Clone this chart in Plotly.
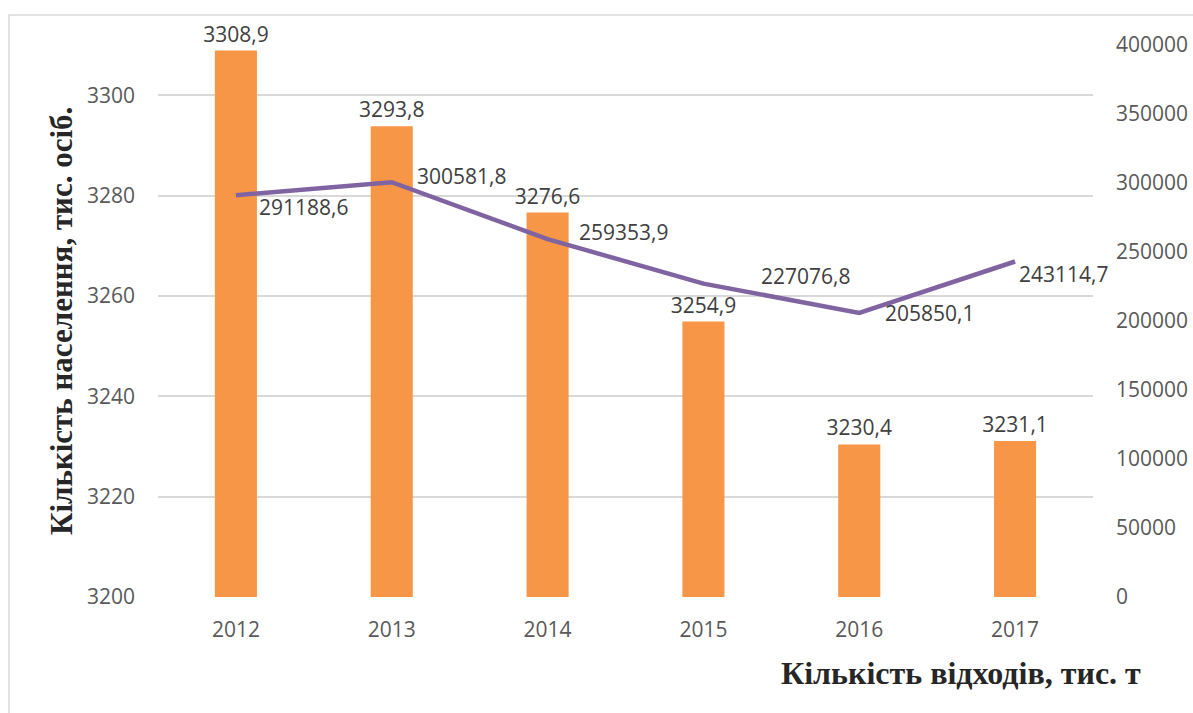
import plotly.graph_objects as go

years = ["2012", "2013", "2014", "2015", "2016", "2017"]
population = [3308.9, 3293.8, 3276.6, 3254.9, 3230.4, 3231.1]
waste = [291188.6, 300581.8, 259353.9, 227076.8, 205850.1, 243114.7]

left_ticks = [3200, 3220, 3240, 3260, 3280, 3300]
right_ticks = [0, 50000, 100000, 150000, 200000, 250000, 300000, 350000, 400000]

def fmt(v):
    return f"{v:.1f}".replace(".", ",")

# label offsets for line data labels (pixels): x shift, y shift (up positive)
line_label_dx = [21, 23, 29, 56, 24, 2]
line_label_dy = [-12, 6, 7, 8, 0, -12]

BAR = "#F79646"
LINE = "#8064A2"
GRID = "#D9D9D9"
TICKFONT = dict(family="Open Sans", size=21, color="#595959")
LABELFONT = dict(family="Open Sans", size=21, color="#404040")

fig = go.Figure()
fig.add_trace(go.Bar(
    x=years, y=population, marker=dict(color=BAR, line=dict(width=0)),
    width=0.27, text=[fmt(v) for v in population], textposition="outside",
    constraintext="none", textfont=LABELFONT, cliponaxis=False, yaxis="y",
    showlegend=False, hoverinfo="skip",
))
fig.add_trace(go.Scatter(
    x=years, y=waste, mode="lines", line=dict(color=LINE, width=4.5),
    yaxis="y2", showlegend=False, cliponaxis=False, hoverinfo="skip",
))

for i, v in enumerate(waste):
    fig.add_annotation(
        x=i, y=v, xref="x", yref="y2", text=fmt(v), showarrow=False,
        xanchor="left", yanchor="middle", xshift=line_label_dx[i], yshift=line_label_dy[i],
        font=LABELFONT,
    )

W, H = 1193, 713
L, R, T, B = 158, 100, 45, 116
pw, ph = W - L - R, H - T - B

def px(x):
    return (x - L) / pw

def py(y):
    return (H - B - y) / ph

# outer chart border
fig.add_shape(type="rect", xref="paper", yref="paper",
              x0=px(9), x1=px(W + 5), y0=py(15), y1=py(H + 5),
              line=dict(color=GRID, width=1.5), fillcolor="rgba(0,0,0,0)", layer="below")

fig.add_annotation(
    text="Кількість населення, тис. осіб.", textangle=-90,
    xref="paper", yref="paper", x=px(61), y=py(321), showarrow=False,
    xanchor="center", yanchor="middle",
    font=dict(family="Liberation Serif", size=31, color="#262626", weight="bold"),
)
fig.add_annotation(
    text="Кількість відходів, тис. т",
    xref="paper", yref="paper", x=px(961), y=py(673), showarrow=False,
    xanchor="center", yanchor="middle",
    font=dict(family="Liberation Serif", size=32, color="#262626", weight="bold"),
)

fig.update_layout(
    width=W, height=H, margin=dict(l=L, r=R, t=T, b=B, pad=0, autoexpand=False),
    paper_bgcolor="white", plot_bgcolor="white",
    xaxis=dict(type="category", range=[-0.5, 5.5], autorange=False, tickfont=TICKFONT,
               showgrid=False, showline=False, ticks="", ticklabelstandoff=18,
               zeroline=False, automargin=False),
    yaxis=dict(range=[3200, 3310], autorange=False, tickvals=left_ticks, tickfont=TICKFONT,
               showgrid=True, gridcolor=GRID, gridwidth=1.5, zeroline=False,
               showline=False, ticks="", ticklabelstandoff=22, automargin=False),
    yaxis2=dict(range=[0, 400000], autorange=False, tickvals=right_ticks, tickformat="d",
                tickfont=TICKFONT, overlaying="y", side="right", showgrid=False,
                zeroline=False, showline=False, ticks="", ticklabelstandoff=22,
                automargin=False),
)

fig.write_html("out.html", config={"displayModeBar": False},
               post_script="document.body.style.margin='0';document.body.style.overflow='hidden';")
